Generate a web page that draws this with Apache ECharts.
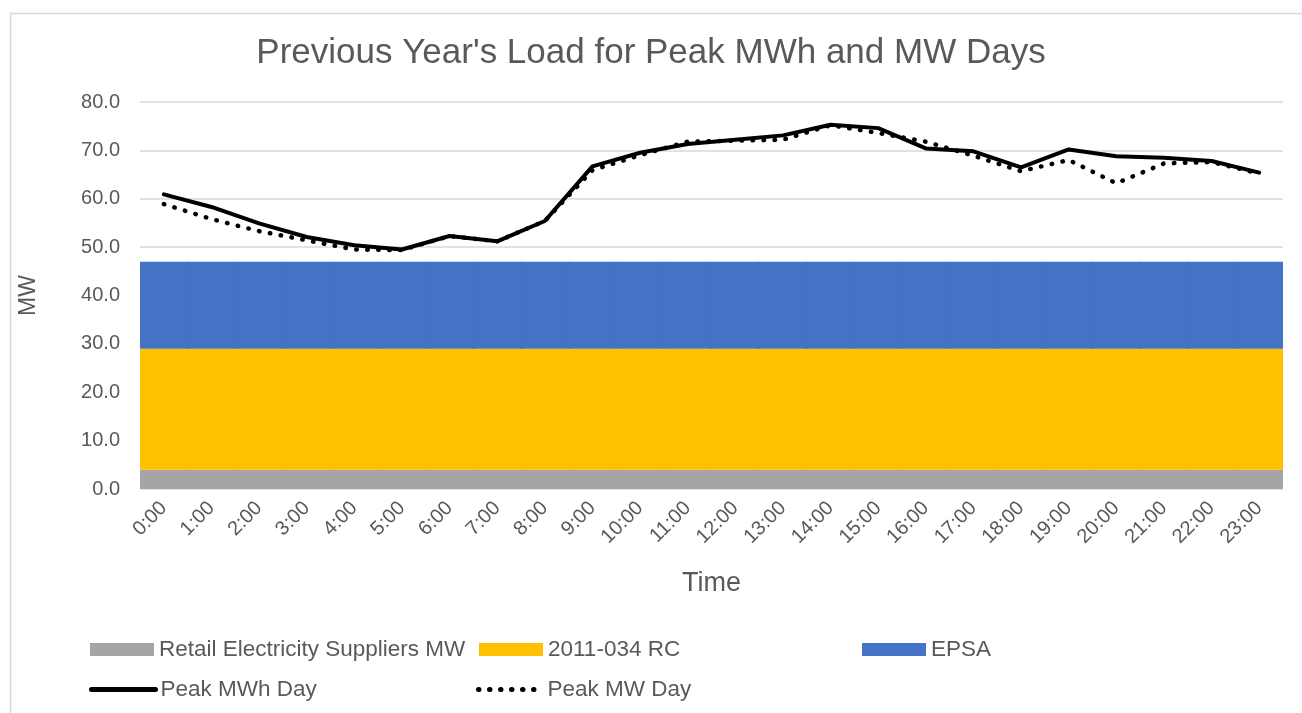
<!DOCTYPE html>
<html>
<head>
<meta charset="utf-8">
<script src="https://cdn.jsdelivr.net/npm/echarts@6/dist/echarts.min.js"></script>
<style>
  html, body { margin: 0; padding: 0; background: #fff; }
  #chart { width: 1302px; height: 713px; }
</style>
</head>
<body>
<div id="chart"></div>
<script>
// hours on the x axis
const hours = ["0:00", "1:00", "2:00", "3:00", "4:00", "5:00", "6:00", "7:00", "8:00", "9:00", "10:00", "11:00",
  "12:00", "13:00", "14:00", "15:00", "16:00", "17:00", "18:00", "19:00", "20:00", "21:00", "22:00", "23:00"];

// stacked capacity blocks (MW)
const retailMW = [4.0, 4.0, 4.0, 4.0, 4.0, 4.0, 4.0, 4.0, 4.0, 4.0, 4.0, 4.0,
  4.0, 4.0, 4.0, 4.0, 4.0, 4.0, 4.0, 4.0, 4.0, 4.0, 4.0, 4.0];
const rcMW = [25.0, 25.0, 25.0, 25.0, 25.0, 25.0, 25.0, 25.0, 25.0, 25.0, 25.0, 25.0,
  25.0, 25.0, 25.0, 25.0, 25.0, 25.0, 25.0, 25.0, 25.0, 25.0, 25.0, 25.0];
const epsaMW = [18.0, 18.0, 18.0, 18.0, 18.0, 18.0, 18.0, 18.0, 18.0, 18.0, 18.0, 18.0,
  18.0, 18.0, 18.0, 18.0, 18.0, 18.0, 18.0, 18.0, 18.0, 18.0, 18.0, 18.0];

// load curves
const peakMWhDay = [60.9, 58.3, 54.9, 52.1, 50.4, 49.5, 52.3, 51.2, 55.4, 66.7, 69.5, 71.3,
  72.2, 73.1, 75.3, 74.6, 70.4, 69.8, 66.5, 70.2, 68.8, 68.5, 67.8, 65.4];
const peakMWDay = [58.9, 55.8, 53.3, 51.4, 49.5, 49.4, 52.3, 51.2, 55.4, 65.9, 69.0, 71.8,
  72.0, 72.2, 75.2, 73.6, 71.8, 68.9, 65.7, 68.0, 63.2, 67.3, 67.6, 65.2];

const txt = "#595959";
const font = "Liberation Sans";

const chart = echarts.init(document.getElementById("chart"));

function leg(name, left, top, isLine) {
  const l = {
    data: [name],
    left: left,
    top: top,
    itemWidth: 64,
    itemHeight: 13,
    textStyle: { color: txt, fontSize: 22.5, fontFamily: font },
    selectedMode: false
  };
  if (isLine) {
    l.itemStyle = { opacity: 0 };
    l.lineStyle = { width: 5, cap: "round" };
  } else {
    l.icon = "rect";
  }
  return l;
}

function bar(name, data, color) {
  return {
    name: name, type: "bar", stack: "cap", data: data,
    barCategoryGap: "0%", barWidth: "103%",
    itemStyle: { color: color }
  };
}

const option = {
  backgroundColor: "#fff",
  animation: false,
  graphic: [{
    type: "rect",
    left: 8,
    top: 11,
    shape: { width: 1320, height: 720 },
    style: { fill: "none", stroke: "#d9d9d9", lineWidth: 1.5 },
    silent: true
  }],
  title: {
    text: "Previous Year's Load for Peak MWh and MW Days",
    left: "center",
    top: 31,
    textStyle: { color: txt, fontSize: 35, fontWeight: "normal", fontFamily: font }
  },
  legend: [
    leg("Retail Electricity Suppliers MW", 85, 633),
    leg("2011-034 RC", 474, 633),
    leg("EPSA", 857, 633),
    leg("Peak MWh Day", 84, 673, true),
    leg("Peak MW Day", 471, 673, true)
  ],
  grid: { left: 140, right: 19, top: 102, bottom: 224 },
  xAxis: {
    type: "category",
    data: hours,
    boundaryGap: true,
    name: "Time",
    nameLocation: "middle",
    nameGap: 81,
    nameTextStyle: { color: txt, fontSize: 27, fontFamily: font },
    axisLine: { show: false },
    axisTick: { show: false },
    axisLabel: { color: txt, fontSize: 20, fontFamily: font, rotate: 45, interval: 0, margin: 16 }
  },
  yAxis: {
    type: "value",
    min: 0,
    max: 80,
    interval: 10,
    name: "MW",
    nameLocation: "middle",
    nameGap: 100,
    nameTextStyle: { color: txt, fontSize: 23, fontFamily: font },
    axisLine: { show: false },
    axisTick: { show: false },
    axisLabel: { color: txt, fontSize: 20, fontFamily: font, margin: 20, formatter: v => v.toFixed(1) },
    splitLine: { lineStyle: { color: "#d9d9d9", width: 1.5 } }
  },
  series: [
    bar("Retail Electricity Suppliers MW", retailMW, "#A5A5A5"),
    bar("2011-034 RC", rcMW, "#FFC000"),
    bar("EPSA", epsaMW, "#4472C4"),
    { name: "Peak MWh Day", type: "line", data: peakMWhDay, symbol: "none", z: 5,
      itemStyle: { color: "#000" },
      lineStyle: { color: "#000", width: 4, cap: "round", join: "round" } },
    { name: "Peak MW Day", type: "line", data: peakMWDay, symbol: "none", z: 6,
      itemStyle: { color: "#000" },
      lineStyle: { color: "#000", width: 4.5, type: [0.5, 10.5], cap: "round", join: "round" } }
  ]
};

chart.setOption(option);
</script>
</body>
</html>
